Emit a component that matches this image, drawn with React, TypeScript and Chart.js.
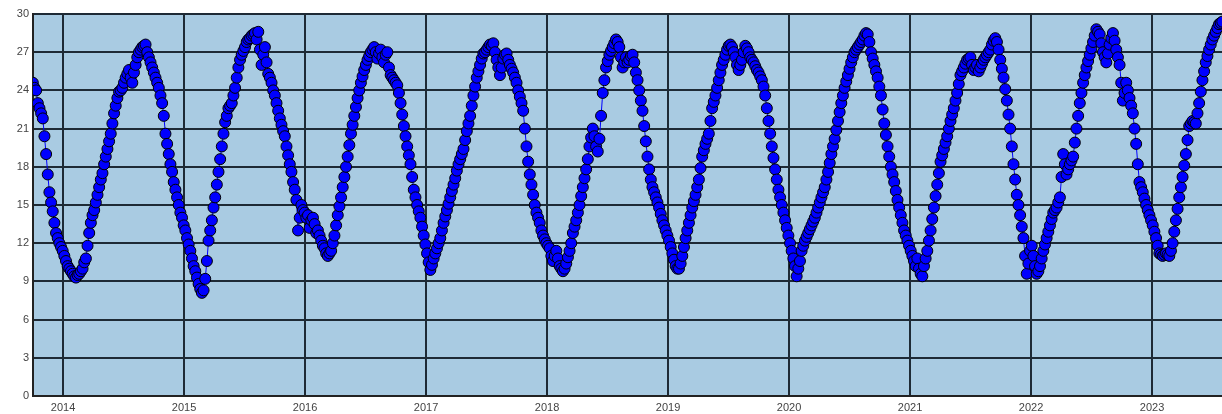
import React, { useEffect, useRef } from 'react';
import { Chart, registerables } from 'chart.js';

Chart.register(...registerables);

// First sample date and spacing between samples (days)
const START_DATE = '2013-10-02';
const STEP_DAYS = 10;
const HALF_STEP_DAYS = 5;

// Readings on the main sample dates (every STEP_DAYS days from START_DATE)
const TEMPS: number[] = [
  24.6, 24.0, 22.6, 21.8, 19.0, 16.0, 14.5, 12.8, 12.0, 11.4,
  10.6, 10.0, 9.6, 9.3, 9.6, 10.0, 10.8, 12.8, 14.2, 15.2,
  16.4, 17.5, 18.8, 20.0, 21.4, 22.8, 23.9, 24.2, 25.0, 25.6,
  24.6, 26.0, 27.0, 27.4, 27.6, 26.6, 25.8, 25.0, 24.2, 23.0,
  20.6, 19.0, 17.6, 16.2, 15.0, 14.0, 13.0, 11.9, 10.8, 9.8,
  8.8, 8.1, 9.2, 12.2, 13.8, 15.6, 17.6, 19.6, 21.5, 22.6,
  23.0, 24.2, 25.8, 26.8, 27.4, 28.0, 28.3, 28.5, 28.6, 26.0,
  27.4, 25.3, 24.6, 23.6, 22.4, 21.3, 20.4, 18.9, 17.6, 16.2,
  13.0, 15.0, 14.4, 14.2, 13.8, 13.5, 13.0, 12.2, 11.6, 11.0,
  11.4, 12.6, 14.2, 15.6, 17.2, 18.8, 20.6, 22.0, 23.4, 24.6,
  25.6, 26.4, 27.0, 27.4, 26.5, 27.2, 26.2, 27.0, 25.2, 24.8,
  24.4, 23.0, 21.2, 19.6, 18.2, 16.2, 15.0, 14.0, 12.6, 11.2,
  9.9, 10.8, 11.6, 12.4, 13.6, 14.6, 15.6, 16.6, 17.7, 18.6,
  19.4, 20.8, 22.0, 23.6, 25.0, 26.0, 26.9, 27.2, 27.6, 27.7,
  26.4, 25.2, 26.5, 26.9, 26.0, 25.4, 24.6, 23.5, 22.4, 19.6,
  17.4, 15.8, 14.4, 13.6, 12.6, 12.0, 11.6, 10.6, 11.4, 10.2,
  9.8, 10.4, 11.4, 12.8, 13.8, 15.0, 16.4, 17.8, 19.6, 21.0,
  19.6, 20.2, 23.8, 25.8, 26.8, 27.4, 28.0, 27.4, 25.8, 26.6,
  26.4, 26.8, 25.4, 24.0, 22.4, 20.0, 17.8, 16.4, 15.6, 14.8,
  13.8, 13.0, 12.2, 11.2, 10.2, 10.0, 11.0, 12.4, 13.6, 14.8,
  15.8, 17.0, 18.8, 19.8, 20.6, 22.6, 23.6, 24.8, 26.0, 26.8,
  27.5, 27.4, 26.6, 25.6, 26.4, 27.5, 27.0, 26.4, 25.9, 25.4,
  24.8, 23.6, 21.6, 19.6, 17.8, 16.2, 15.0, 13.8, 12.6, 11.4,
  10.2, 10.0, 11.4, 12.2, 12.8, 13.4, 14.0, 14.8, 15.6, 16.4,
  17.6, 19.0, 20.2, 21.6, 23.0, 24.2, 25.2, 26.2, 27.0, 27.4,
  27.8, 28.3, 28.4, 27.0, 26.0, 25.0, 23.6, 21.4, 19.6, 18.0,
  16.8, 15.4, 14.2, 13.0, 12.2, 11.4, 10.6, 10.8, 9.6, 10.2,
  11.4, 13.0, 14.8, 16.6, 18.4, 19.4, 20.4, 21.6, 22.6, 23.8,
  25.2, 25.8, 26.4, 26.6, 25.6, 26.0, 25.8, 26.4, 26.8, 27.2,
  27.9, 27.8, 26.4, 25.0, 23.2, 21.0, 18.2, 15.8, 14.2, 12.4,
  9.6, 11.4, 11.0, 9.6, 10.2, 11.4, 12.4, 13.4, 14.4, 14.8,
  15.6, 19.0, 17.4, 18.2, 18.8, 21.0, 23.0, 24.6, 25.8, 26.8,
  27.8, 28.8, 28.4, 27.0, 26.2, 27.6, 28.5, 27.2, 26.0, 23.2,
  24.6, 23.4, 22.2, 19.8, 16.8, 16.0, 15.0, 14.2, 13.4, 12.4,
  11.2, 11.0, 11.2, 11.0, 12.0, 13.8, 15.6, 17.2, 19.0, 21.2,
  21.6, 21.4, 23.0, 24.8, 26.2, 27.2, 28.0, 28.6, 29.2, 29.4,
];

// Readings HALF_STEP_DAYS after each main sample date
const TEMPS_MID: number[] = [
  24.2, 23.0, 22.2, 20.4, 17.4, 15.2, 13.6, 12.4, 11.7, 11.0,
  10.2, 9.8, 9.4, 9.5, 9.8, 10.5, 11.8, 13.6, 14.6, 15.8,
  17.0, 18.2, 19.4, 20.6, 22.2, 23.4, 24.0, 24.6, 25.3, 25.0,
  25.4, 26.6, 27.2, 27.5, 27.0, 26.2, 25.4, 24.6, 23.6, 22.0,
  19.8, 18.2, 16.8, 15.6, 14.4, 13.4, 12.4, 11.4, 10.2, 9.3,
  8.4, 8.3, 10.6, 13.0, 14.8, 16.6, 18.6, 20.6, 22.0, 22.8,
  23.6, 25.0, 26.4, 27.1, 27.8, 28.1, 28.4, 28.0, 27.2, 26.8,
  26.2, 25.0, 24.0, 23.0, 21.8, 20.8, 19.6, 18.2, 16.8, 15.4,
  14.0, 14.6, 14.0, 13.2, 14.0, 12.8, 12.6, 11.8, 11.2, 11.2,
  12.0, 13.4, 14.9, 16.4, 18.0, 19.7, 21.3, 22.7, 24.0, 25.1,
  26.0, 26.7, 27.2, 27.0, 26.9, 26.6, 26.8, 25.8, 25.0, 24.6,
  23.8, 22.1, 20.4, 18.9, 17.2, 15.6, 14.5, 13.3, 11.9, 10.5,
  10.3, 11.2, 12.0, 13.0, 14.1, 15.1, 16.1, 17.1, 18.2, 19.0,
  20.1, 21.4, 22.8, 24.3, 25.5, 26.5, 27.0, 27.4, 27.5, 27.0,
  25.8, 25.8, 26.8, 26.4, 25.7, 25.0, 24.0, 23.0, 21.0, 18.4,
  16.6, 15.0, 14.0, 13.0, 12.3, 11.8, 11.0, 11.0, 10.8, 10.0,
  10.0, 10.9, 12.0, 13.3, 14.4, 15.7, 17.1, 18.6, 20.3, 20.4,
  19.2, 22.0, 24.8, 26.3, 27.1, 27.7, 27.8, 26.6, 26.2, 26.2,
  26.7, 26.2, 24.8, 23.2, 21.2, 18.8, 17.0, 16.0, 15.2, 14.3,
  13.4, 12.6, 11.7, 10.7, 10.0, 10.4, 11.7, 13.0, 14.2, 15.3,
  16.4, 17.9, 19.3, 20.2, 21.6, 23.1, 24.2, 25.4, 26.4, 27.2,
  27.6, 27.0, 26.0, 26.0, 27.0, 27.3, 26.6, 26.2, 25.6, 25.1,
  24.3, 22.6, 20.6, 18.7, 17.0, 15.6, 14.4, 13.2, 12.0, 10.8,
  9.4, 10.6, 11.8, 12.5, 13.1, 13.7, 14.4, 15.2, 16.0, 17.0,
  18.3, 19.6, 20.9, 22.3, 23.6, 24.7, 25.7, 26.6, 27.2, 27.6,
  28.0, 28.5, 27.8, 26.5, 25.5, 24.3, 22.5, 20.5, 18.8, 17.4,
  16.1, 14.8, 13.6, 12.6, 11.8, 11.0, 10.2, 10.0, 9.4, 10.8,
  12.2, 13.9, 15.7, 17.5, 18.9, 19.9, 21.0, 22.1, 23.2, 24.5,
  25.5, 26.1, 26.5, 26.0, 25.8, 25.5, 26.1, 26.6, 27.0, 27.6,
  28.1, 27.2, 25.7, 24.1, 22.1, 19.6, 17.0, 15.0, 13.3, 11.0,
  10.4, 11.8, 10.2, 9.8, 10.8, 11.9, 12.9, 13.9, 14.6, 15.2,
  17.2, 18.2, 17.8, 18.5, 19.9, 22.0, 23.8, 25.2, 26.3, 27.3,
  28.3, 28.6, 27.7, 26.6, 26.9, 28.1, 27.9, 26.6, 24.6, 23.8,
  24.0, 22.8, 21.0, 18.2, 16.4, 15.5, 14.6, 13.8, 12.9, 11.8,
  11.1, 11.1, 11.1, 11.4, 12.9, 14.7, 16.4, 18.1, 20.1, 21.4,
  21.5, 22.2, 23.9, 25.5, 26.7, 27.6, 28.3, 28.9, 29.3, 29.5,
];

const YEAR_TICKS = [2014, 2015, 2016, 2017, 2018, 2019, 2020, 2021, 2022, 2023];
const X_MIN = 2013.752;
const X_MAX = 2023.578;
const Y_MIN = 0;
const Y_MAX = 30;
const Y_STEP = 3;

const DAY_MS = 86400000;

function decimalYear(t: number): number {
  const d = new Date(t);
  const y = d.getUTCFullYear();
  const a = Date.UTC(y, 0, 1);
  const b = Date.UTC(y + 1, 0, 1);
  return y + (t - a) / (b - a);
}

function buildPoints() {
  const start = new Date(START_DATE + 'T00:00:00Z').getTime();
  const pts: { x: number; y: number }[] = [];
  TEMPS.forEach((v, i) => {
    const t = start + i * STEP_DAYS * DAY_MS;
    pts.push({ x: decimalYear(t), y: v });
    if (i < TEMPS_MID.length) {
      pts.push({ x: decimalYear(t + HALF_STEP_DAYS * DAY_MS), y: TEMPS_MID[i] });
    }
  });
  return pts;
}

const plotBg = {
  id: 'plotBg',
  beforeDraw(chart: any) {
    const { ctx, chartArea } = chart;
    if (!chartArea) return;
    ctx.save();
    ctx.fillStyle = '#a9cbe2';
    ctx.fillRect(chartArea.left, chartArea.top, chartArea.right - chartArea.left, chartArea.bottom - chartArea.top);
    ctx.restore();
  },
};

export default function App() {
  const ref = useRef<HTMLCanvasElement | null>(null);

  useEffect(() => {
    if (!ref.current) return;
    const chart = new Chart(ref.current, {
      type: 'line',
      data: {
        datasets: [
          {
            data: buildPoints(),
            borderColor: '#0000ff',
            borderWidth: 1,
            backgroundColor: '#0000ff',
            pointBackgroundColor: '#0000ff',
            pointBorderColor: '#000000',
            pointBorderWidth: 1,
            pointRadius: 5.5,
            tension: 0,
            fill: false,
          },
        ],
      },
      options: {
        animation: false,
        responsive: false,
        events: [],
        layout: { autoPadding: false, padding: { top: 14, right: 0, left: 0, bottom: 0 } },
        plugins: { legend: { display: false }, tooltip: { enabled: false } },
        scales: {
          x: {
            type: 'linear',
            min: X_MIN,
            max: X_MAX,
            afterBuildTicks: (scale: any) => {
              scale.ticks = YEAR_TICKS.map((v) => ({ value: v }));
            },
            afterFit: (scale: any) => {
              scale.height = 18;
            },
            grid: { color: '#1e2a35', lineWidth: 2, drawTicks: false },
            border: { color: '#222222', width: 2 },
            ticks: {
              font: { family: 'Arial, "Liberation Sans", sans-serif', size: 11 },
              color: '#444444',
              padding: 5,
              maxRotation: 0,
              autoSkip: false,
              callback: (v: any) => String(v),
            },
          },
          y: {
            type: 'linear',
            min: Y_MIN,
            max: Y_MAX,
            afterFit: (scale: any) => {
              scale.width = 33;
            },
            grid: { color: '#1e2a35', lineWidth: 2, drawTicks: false },
            border: { color: '#222222', width: 2 },
            ticks: {
              stepSize: Y_STEP,
              font: { family: 'Arial, "Liberation Sans", sans-serif', size: 11 },
              color: '#444444',
              padding: 4,
            },
          },
        },
      },
      plugins: [plotBg],
    });
    return () => chart.destroy();
  }, []);

  return (
    <div style={{ position: 'absolute', left: 0, top: 0, width: 1222, height: 414, background: '#fff' }}>
      <canvas ref={ref} width={1222} height={414} />
    </div>
  );
}
